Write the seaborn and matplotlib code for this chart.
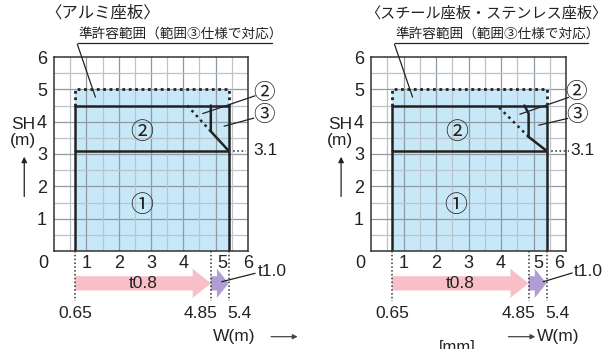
import matplotlib
matplotlib.use("Agg")
import matplotlib.pyplot as plt
import seaborn as sns
import numpy as np
import pandas as pd
from matplotlib.patches import FancyArrow

sns.set_theme(style="white")
plt.rcParams['font.family'] = ['Liberation Sans', 'Noto Sans CJK JP', 'DejaVu Sans']

# ---------------- data ----------------
panel_titles = ["〈アルミ座板〉", "〈スチール座板・ステンレス座板〉"]
subtitle = "準許容範囲（範囲③仕様で対応）"
w_min = 0.65          # W lower limit (m)
w_t08 = 4.85          # limit for t0.8
w_max = 5.4           # W upper limit (m)
sh_r1 = 3.1           # range ① upper SH
sh_r2 = 4.5           # range ② upper SH
sh_semi = 5.0         # semi-permitted SH
# range ③ boundary polyline per panel
r3_x = [[5.4, 4.85, 4.85], [5.4, 4.85, 4.85, 4.72]]
r3_y = [[3.1, 3.7, 4.5], [3.1, 3.53, 4.25, 4.5]]
# dotted continuation of boundary
r3d_x = [[4.85, 4.12], [4.85, 3.88]]
r3d_y = [[3.7, 4.5], [3.53, 4.5]]
x_ticks = [0, 1, 2, 3, 4, 5, 6]
y_ticks = [1, 2, 3, 4, 5, 6]
thickness_labels = ["t0.8", "t1.0"]
bottom_labels = ["0.65", "4.85", "5.4"]

# ---------------- styles ----------------
BLUE = "#c7e8f8"
PINK = "#f9bfc8"
PURPLE = "#b09dd3"
INK = "#222222"

fig = plt.figure(figsize=(6.06, 3.49), dpi=100)
axes_pos = [[54 / 606, 98 / 349, 194 / 606, 194 / 349],
            [371 / 606, 98 / 349, 195 / 606, 194 / 349]]

# per-panel layout tweaks
xlab_pos = [[-0.33, 1, 2, 3, 4, 5.2, 6.0], [-0.32, 1, 2, 3, 4, 5.16, 5.8]]
circ2_out = [(6.48, 4.9), (6.3, 4.92)]
circ3_out = [(6.51, 4.22), (6.35, 4.2)]
lead2 = [((4.6, 4.25), (6.22, 4.8)), ((4.58, 4.23), (6.08, 4.75))]
lead3 = [((5.26, 3.86), (6.18, 4.11)), ((5.16, 3.89), (6.05, 4.1))]
circ1_in = [(2.71, 1.42), (2.6, 1.42)]
circ2_in = [(2.7, 3.68), (2.64, 3.68)]
title_x = [-0.28, -0.19]
title_size = [11.8, 10.9]
underline_x1 = [6.75, 6.67]
lab31_x = [(5.95, 6.16), (6.1, 6.14)]
t10_lead = [((5.19, -0.95), (6.22, -0.69)), ((5.3, -0.95), (6.19, -0.68))]
t10_x = [6.29, 6.23]

for i in range(2):
    ax = fig.add_axes(axes_pos[i])
    ax.set_xlim(0, 6)
    ax.set_ylim(0, 6)

    # fill of permitted range
    ax.fill_between([w_min, w_max], 0, sh_semi, color=BLUE, lw=0, zorder=0)

    # grid
    for v in np.arange(0.5, 6.0, 0.5):
        major = float(v).is_integer()
        c = "#8f9aa2" if major else "#bcc4c9"
        ax.axvline(v, color=c, lw=0.9, zorder=1)
        ax.axhline(v, color=c, lw=0.9, zorder=1)

    # semi-permitted (dotted) boundary
    df_semi = pd.DataFrame({"x": [w_min, w_min, w_max, w_max],
                            "y": [sh_r2, sh_semi, sh_semi, sh_r2]})
    sns.lineplot(data=df_semi, x="x", y="y", sort=False, estimator=None,
                 color=INK, lw=2.0, linestyle=(0, (1, 1.3)), ax=ax, zorder=3)
    # outer solid boundary
    df_out = pd.DataFrame({"x": [w_min, w_min, w_max, w_max],
                           "y": [0, sh_r2, sh_r2, 0]})
    sns.lineplot(data=df_out, x="x", y="y", sort=False, estimator=None,
                 color=INK, lw=1.8, ax=ax, zorder=3)
    df_r1 = pd.DataFrame({"x": [w_min, w_max], "y": [sh_r1, sh_r1]})
    sns.lineplot(data=df_r1, x="x", y="y", sort=False, estimator=None,
                 color=INK, lw=1.8, ax=ax, zorder=3)
    df_r3 = pd.DataFrame({"x": r3_x[i], "y": r3_y[i]})
    sns.lineplot(data=df_r3, x="x", y="y", sort=False, estimator=None,
                 color=INK, lw=1.8, ax=ax, zorder=3)
    df_r3d = pd.DataFrame({"x": r3d_x[i], "y": r3d_y[i]})
    sns.lineplot(data=df_r3d, x="x", y="y", sort=False, estimator=None,
                 color=INK, lw=1.8, linestyle=(0, (1, 1.6)), ax=ax, zorder=3)

    # 3.1 dotted extension
    ax.plot([w_max, lab31_x[i][0]], [sh_r1, sh_r1], color="#444", lw=1.2,
            linestyle=(0, (1, 1.5)), clip_on=False, zorder=3)
    ax.text(lab31_x[i][1], sh_r1, "3.1", ha="left", va="center", fontsize=12.5,
            color=INK, clip_on=False)

    # vertical dotted guide lines below
    for xv in [w_min, w_t08, w_max]:
        ax.plot([xv, xv], [0, -1.55], color="#333", lw=1.1,
                linestyle=(0, (1, 1.5)), clip_on=False, zorder=3)

    # arrows
    ax.add_patch(FancyArrow(w_min, -1.0, w_t08 - w_min, 0, width=0.44,
                            head_width=0.9, head_length=0.56,
                            length_includes_head=True, color=PINK, lw=0,
                            clip_on=False, zorder=2))
    ax.add_patch(FancyArrow(w_t08, -1.0, w_max - w_t08, 0, width=0.44,
                            head_width=0.9, head_length=0.36,
                            length_includes_head=True, color=PURPLE, lw=0,
                            clip_on=False, zorder=2))
    ax.text((w_min + w_t08) / 2 - 0.0, -1.0, thickness_labels[0], ha="center",
            va="center", fontsize=12.5, color=INK)
    (a0, a1) = t10_lead[i]
    ax.plot([a0[0], a1[0]], [a0[1], a1[1]], color=INK, lw=0.9, clip_on=False,
            zorder=4)
    ax.text(t10_x[i], -0.62, thickness_labels[1], ha="left", va="center",
            fontsize=12.5, color=INK)

    # bottom numbers
    ax.text(w_min, -1.93, bottom_labels[0], ha="center", va="center",
            fontsize=12.5, color=INK)
    ax.text(5.06, -1.93, bottom_labels[1], ha="right", va="center",
            fontsize=12.5, color=INK)
    ax.text(5.37, -1.93, bottom_labels[2], ha="left", va="center",
            fontsize=12.5, color=INK)

    # axes ticks
    ax.set_xticks([])
    ax.set_yticks(y_ticks)
    ax.set_yticklabels([str(v) for v in y_ticks], fontsize=13, color=INK)
    ax.tick_params(axis="y", length=0, pad=5)
    for v, xp in zip(x_ticks, xlab_pos[i]):
        ax.text(xp, -0.38, str(v), ha="center", va="center", fontsize=13,
                color=INK)
    for s in ax.spines.values():
        s.set_color("#333")
        s.set_linewidth(1.1)
        s.set_zorder(4)

    # circled region labels
    for (cx, cy), t in [(circ1_in[i], "①"), (circ2_in[i], "②")]:
        ax.text(cx, cy, t, ha="center", va="center", fontsize=16.5,
                family=["Noto Sans CJK JP"], color=INK, zorder=5)
    for (cx, cy), t in [(circ2_out[i], "②"), (circ3_out[i], "③")]:
        ax.text(cx, cy, t, ha="center", va="center", fontsize=15.5,
                family=["Noto Sans CJK JP"], color=INK, clip_on=False)
    for (p0, p1) in [lead2[i], lead3[i]]:
        ax.plot([p0[0], p1[0]], [p0[1], p1[1]], color=INK, lw=0.9,
                clip_on=False, zorder=5)

    # titles and subtitle
    ax.text(title_x[i], 7.36, panel_titles[i], ha="left", va="center",
            fontsize=title_size[i], family=["Noto Sans CJK JP"], color=INK,
            clip_on=False)
    ax.text(0.74, 6.73, subtitle, ha="left", va="center", fontsize=9.8,
            family=["Noto Sans CJK JP"], color=INK, clip_on=False)
    ax.plot([0.74, underline_x1[i]], [6.42, 6.42], color=INK, lw=0.9,
            clip_on=False)
    ax.plot([0.72, 1.28], [6.4, 4.76], color=INK, lw=0.9, clip_on=False,
            zorder=5)

    # SH axis label and arrow
    ax.text(-0.96, 3.92, "SH", ha="center", va="center", fontsize=12.5,
            color=INK, clip_on=False)
    ax.text(-0.96, 3.43, "(m)", ha="center", va="center", fontsize=12.5,
            color=INK, clip_on=False)
    ax.annotate("", xy=(-0.92, 3.0), xytext=(-0.92, 1.6),
                arrowprops=dict(arrowstyle="-|>", color=INK, lw=0.9,
                                mutation_scale=8),
                annotation_clip=False)

    # W axis label and arrow
    if i == 0:
        ax.text(4.92, -2.65, "W(m)", ha="left", va="center", fontsize=12.5,
                color=INK, clip_on=False)
        ax.annotate("", xy=(7.62, -2.65), xytext=(6.63, -2.65),
                    arrowprops=dict(arrowstyle="-|>", color="#444", lw=0.9,
                                    mutation_scale=7),
                    annotation_clip=False)
    else:
        ax.text(5.12, -2.65, "W(m)", ha="left", va="center", fontsize=12.5,
                color=INK, clip_on=False)
        ax.annotate("", xy=(5.14, -2.65), xytext=(4.14, -2.65),
                    arrowprops=dict(arrowstyle="-|>", color="#444", lw=0.9,
                                    mutation_scale=7),
                    annotation_clip=False)
    ax.set_xlabel("")
    ax.set_ylabel("")
    legend = ax.get_legend()
    if legend is not None:
        legend.remove()

fig.text(457 / 606, 1 - 340 / 349, "[mm]", ha="center", va="top",
         fontsize=12, color=INK)

fig.savefig("out.png", dpi=100)
